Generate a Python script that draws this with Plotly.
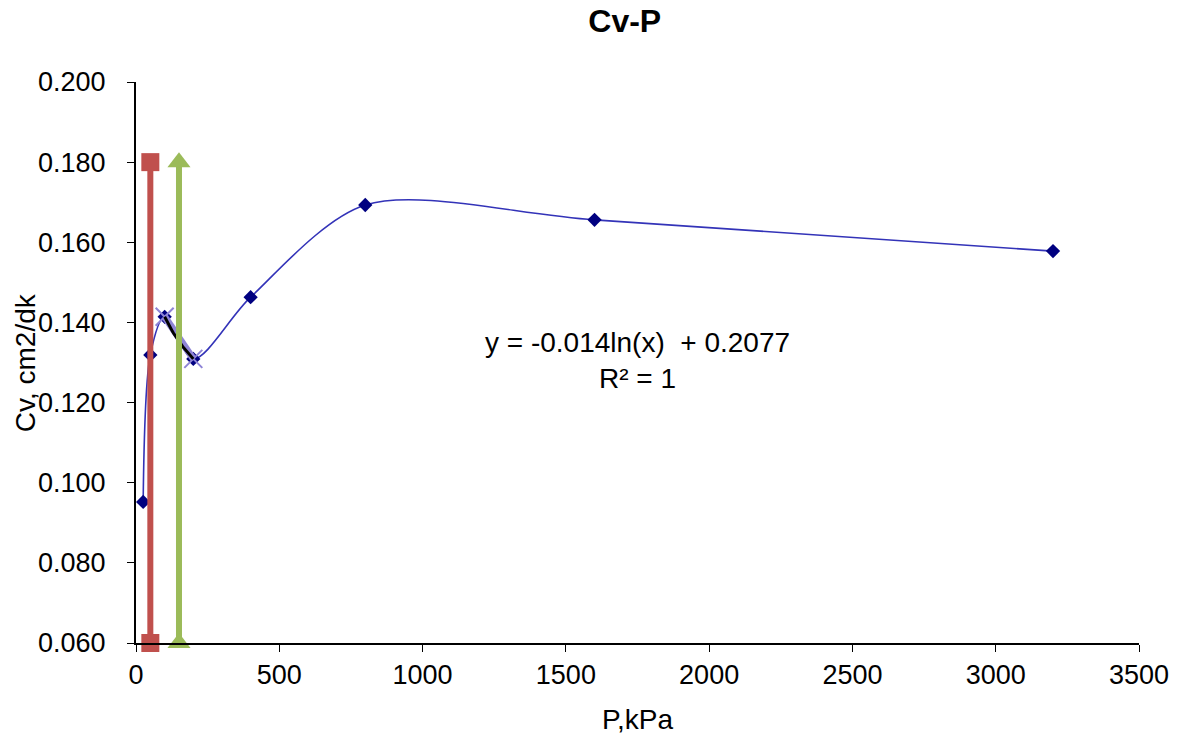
import numpy as np
import plotly.graph_objects as go

# Consolidation coefficient vs. pressure
pressure_kpa = [25, 50, 100, 200, 400, 800, 1600, 3200]
cv_values = [0.0952, 0.1319, 0.1414, 0.1309, 0.1463, 0.1693, 0.1656, 0.1578]

# Segment used for the logarithmic trend
trend_x = [100, 200]
trend_y = [0.1414, 0.1309]

# Vertical marker lines
red_x = [50, 50]
red_y = [0.060, 0.180]
green_x = [150, 150]
green_y = [0.060, 0.180]

FONT = "Arial, Liberation Sans, sans-serif"

fig = go.Figure()

fig.add_trace(go.Scatter(
    x=pressure_kpa, y=cv_values, mode="lines+markers",
    line=dict(color="#3333B8", width=1.6, shape="spline", smoothing=0.85),
    marker=dict(symbol="diamond", size=11, color="#000080"),
    cliponaxis=False, showlegend=False,
))

fig.add_trace(go.Scatter(
    x=trend_x, y=trend_y, mode="lines+markers",
    line=dict(color="#8E84D6", width=7),
    marker=dict(symbol="x-thin", size=18, line=dict(color="#8E84D6", width=2)),
    showlegend=False,
))

# log fit through the segment
coef = np.polyfit(np.log(trend_x), trend_y, 1)
fx = np.linspace(trend_x[0], trend_x[-1], 30)
fig.add_trace(go.Scatter(
    x=fx, y=coef[0] * np.log(fx) + coef[1], mode="lines",
    line=dict(color="#000000", width=3), showlegend=False,
))

fig.add_trace(go.Scatter(
    x=red_x, y=red_y, mode="lines+markers",
    line=dict(color="#C0504D", width=6),
    marker=dict(symbol="square", size=18, color="#C0504D"),
    cliponaxis=False, showlegend=False,
))

fig.add_trace(go.Scatter(
    x=green_x, y=green_y, mode="lines+markers",
    line=dict(color="#9BBB59", width=6),
    marker=dict(symbol="triangle-up", size=20, color="#9BBB59"),
    cliponaxis=False, showlegend=False,
))

fig.update_layout(
    width=1181, height=744,
    margin=dict(l=136, r=39, t=82, b=101),
    paper_bgcolor="white", plot_bgcolor="white",
    font=dict(family=FONT, size=27, color="#000000"),
    title=dict(text="<b>Cv-P</b>", x=0.529, xanchor="center", y=0.972, yanchor="middle",
               font=dict(family=FONT, size=32, color="#000000")),
    xaxis=dict(
        range=[0, 3500], tickvals=[0, 500, 1000, 1500, 2000, 2500, 3000, 3500],
        showline=True, linecolor="#000000", linewidth=2,
        ticks="outside", ticklen=7, tickcolor="#000000",
        showgrid=False, zeroline=False,
        tickfont=dict(size=27),
        title=dict(text="P,kPa", font=dict(size=28), standoff=20),
    ),
    yaxis=dict(
        range=[0.060, 0.200], tickvals=[0.06, 0.08, 0.10, 0.12, 0.14, 0.16, 0.18, 0.20],
        tickformat=".3f",
        showline=True, linecolor="#000000", linewidth=2,
        ticks="outside", ticklen=7, tickcolor="#000000",
        showgrid=False, zeroline=False,
        tickfont=dict(size=27), ticklabelstandoff=16,
    ),
    annotations=[
        dict(text="Cv, cm2/dk", textangle=-90, xref="paper", yref="paper",
             x=-0.11, y=0.5, xanchor="center", yanchor="middle", showarrow=False,
             font=dict(size=28)),
        dict(text="y = -0.014ln(x)  + 0.2077<br>R² = 1", xref="paper", yref="paper",
             x=0.5, y=0.504, xanchor="center", yanchor="middle", showarrow=False,
             font=dict(size=28)),
    ],
)

fig.write_html("out.html")
